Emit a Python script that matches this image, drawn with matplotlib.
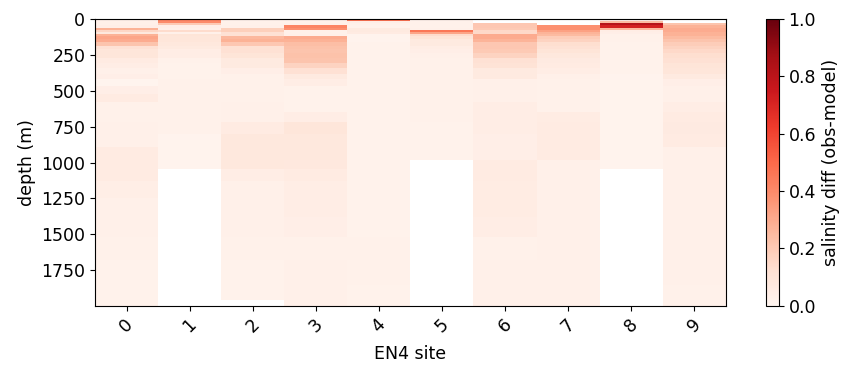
import numpy as np
import matplotlib
matplotlib.use('Agg')
import matplotlib.pyplot as plt

nan = np.nan

# depth level edges (m) shared by all profiles
depth_edges = [0, 15, 30, 45, 60, 75, 90, 105, 120, 140, 160, 185, 210, 240, 270, 305,
               340, 380, 420, 470, 520, 580, 650, 720, 800, 890, 985, 1045, 1130, 1250,
               1380, 1520, 1680, 1850, 1960, 2000]

sites = [0, 1, 2, 3, 4, 5, 6, 7, 8, 9]

# salinity diff (obs-model) per EN4 site, one value per depth level
diff_site0 = [0.03, 0.03, 0.03, 0.04, 0.28, 0.16, 0.08, 0.28, 0.32, 0.30,
              0.22, 0.12, 0.09, 0.09, 0.06, 0.05, 0.03, 0.04, 0.01, 0.04,
              0.06, 0.025, 0.025, 0.03, 0.03, 0.06, 0.06, 0.06, 0.045, 0.03,
              0.03, 0.025, 0.02, 0.02, 0.02]
diff_site1 = [0.42, 0.40, 0.20, 0.04, 0.03, 0.14, 0.03, 0.10, 0.09, 0.09,
              0.08, 0.07, 0.05, 0.05, 0.025, 0.02, 0.02, 0.02, 0.025, 0.025,
              0.025, 0.025, 0.025, 0.025, 0.012, 0.012, 0.012, nan, nan, nan,
              nan, nan, nan, nan, nan]
diff_site2 = [0.025, 0.025, 0.025, 0.03, 0.18, 0.18, 0.12, 0.12, 0.26, 0.28,
              0.21, 0.12, 0.12, 0.10, 0.07, 0.07, 0.04, 0.025, 0.025, 0.025,
              0.025, 0.03, 0.03, 0.06, 0.08, 0.08, 0.08, 0.05, 0.03, 0.03,
              0.03, 0.025, 0.02, 0.02, nan]
diff_site3 = [0.025, 0.025, 0.03, 0.42, 0.38, 0.025, 0.025, 0.03, 0.30, 0.28,
              0.24, 0.23, 0.22, 0.23, 0.22, 0.17, 0.12, 0.07, 0.05, 0.02,
              0.02, 0.02, 0.05, 0.09, 0.08, 0.08, 0.075, 0.06, 0.05, 0.05,
              0.04, 0.025, 0.03, 0.03, 0.03]
diff_site4 = [0.48, 0.05, 0.03, 0.025, 0.07, 0.07, 0.06, 0.012, 0.012, 0.012,
              0.02, 0.02, 0.02, 0.02, 0.02, 0.02, 0.02, 0.02, 0.02, 0.02,
              0.02, 0.02, 0.02, 0.02, 0.02, 0.02, 0.02, 0.02, 0.02, 0.02,
              0.02, 0.025, 0.025, 0.02, 0.02]
diff_site5 = [0.025, 0.025, 0.025, 0.025, 0.03, 0.46, 0.32, 0.14, 0.10, 0.07,
              0.07, 0.05, 0.04, 0.03, 0.025, 0.025, 0.025, 0.025, 0.025, 0.025,
              0.025, 0.025, 0.025, 0.02, 0.02, 0.02, nan, nan, nan, nan,
              nan, nan, nan, nan, nan]
diff_site6 = [nan, nan, 0.21, 0.21, 0.20, 0.15, 0.15, 0.30, 0.30, 0.27,
              0.21, 0.21, 0.20, 0.17, 0.12, 0.11, 0.07, 0.07, 0.03, 0.03,
              0.03, 0.05, 0.05, 0.05, 0.04, 0.04, 0.06, 0.06, 0.055, 0.055,
              0.05, 0.025, 0.03, 0.03, 0.03]
diff_site7 = [nan, nan, nan, 0.38, 0.38, 0.33, 0.27, 0.25, 0.19, 0.17,
              0.13, 0.12, 0.10, 0.08, 0.065, 0.06, 0.05, 0.03, 0.025, 0.025,
              0.025, 0.025, 0.055, 0.06, 0.06, 0.06, 0.03, 0.03, 0.03, 0.03,
              0.03, 0.03, 0.03, 0.03, 0.03]
diff_site8 = [0.03, 0.25, 0.82, 0.72, 0.26, 0.05, 0.04, 0.025, 0.025, 0.025,
              0.02, 0.02, 0.02, 0.02, 0.02, 0.02, 0.02, 0.012, 0.012, 0.012,
              0.012, 0.012, 0.012, 0.012, 0.012, 0.012, 0.012, nan, nan, nan,
              nan, nan, nan, nan, nan]
diff_site9 = [nan, nan, 0.22, 0.28, 0.30, 0.30, 0.28, 0.28, 0.25, 0.22,
              0.19, 0.17, 0.15, 0.13, 0.12, 0.10, 0.09, 0.07, 0.04, 0.03,
              0.03, 0.05, 0.06, 0.065, 0.06, 0.03, 0.03, 0.03, 0.03, 0.03,
              0.03, 0.03, 0.03, 0.025, 0.025]

diffs = np.array([diff_site0, diff_site1, diff_site2, diff_site3, diff_site4,
                  diff_site5, diff_site6, diff_site7, diff_site8, diff_site9]).T
diffs = np.ma.masked_invalid(diffs)

x_edges = np.arange(len(sites) + 1) - 0.5

plt.rcParams['font.size'] = 12.5
fig = plt.figure(figsize=(8.41, 3.65), dpi=100)
ax = fig.add_axes([0.113, 0.162, 0.750, 0.786])
cax = fig.add_axes([0.911, 0.162, 0.015, 0.786])

mesh = ax.pcolormesh(x_edges, depth_edges, diffs, cmap='Reds', vmin=0, vmax=1)
ax.set_ylim(1998, 0)
ax.set_xlim(x_edges[0], x_edges[-1])
ax.set_xticks(sites)
ax.set_xticklabels([str(s) for s in sites], rotation=45)
ax.set_yticks([0, 250, 500, 750, 1000, 1250, 1500, 1750])
ax.set_xlabel('EN4 site', labelpad=6)
ax.set_ylabel('depth (m)')

cb = fig.colorbar(mesh, cax=cax)
cb.set_label('salinity diff (obs-model)')
cb.set_ticks([0.0, 0.2, 0.4, 0.6, 0.8, 1.0])

plt.savefig('out.png', dpi=100)
